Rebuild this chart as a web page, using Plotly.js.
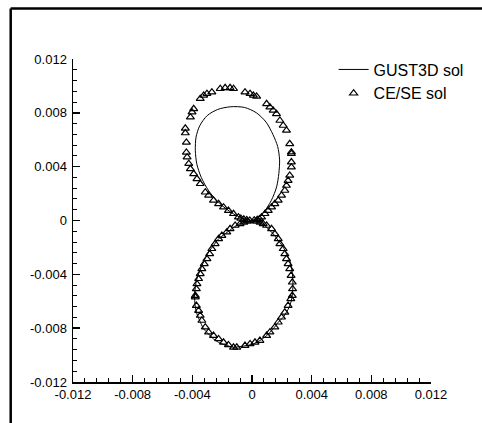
<!DOCTYPE html>
<html>
<head>
<meta charset="utf-8">
<script src="https://cdn.plot.ly/plotly-3.0.1.min.js"></script>
<style>
  html, body { margin: 0; padding: 0; background: #ffffff; }
  #chart { width: 482px; height: 423px; }
</style>
</head>
<body>
<div id="chart"></div>
<script>
// ---- Data (values in units of 1e-3) ----
var seriesNames = ["GUST3D sol", "CE/SE sol"];

// GUST3D solution: continuous figure-eight curve (upper loop, then lower loop)
var gustX = [0, 0.7, 1.3, 1.65, 1.8, 1.85, 1.72, 1.4, 0.95, 0.3, -0.5, -1.45, -2.3, -3.0, -3.5, -3.75, -3.8, -3.7, -3.4, -2.9, -2.15, -1.25, -0.4,
             0, 0.31, 0.76, 1.09, 1.42, 1.76, 2.09, 2.31, 2.53, 2.64, 2.71, 2.74, 2.74, 2.71, 2.64, 2.49, 2.31, 2.09, 1.76, 1.42, 0.98, 0.53, 0.09,
             -0.36, -0.8, -1.24, -1.69, -2.13, -2.58, -2.91, -3.24, -3.51, -3.69, -3.8, -3.84, -3.85, -3.8, -3.73, -3.58, -3.4, -3.2, -2.91, -2.58,
             -2.24, -1.8, -1.36, -0.91, -0.47, 0];
var gustY = [0, 0.5, 1.5, 2.5, 3.5, 4.5, 5.5, 6.4, 7.3, 8.0, 8.4, 8.45, 8.25, 7.8, 7.05, 6.2, 5.2, 4.2, 3.2, 2.2, 1.25, 0.5, 0.07,
             0, -0.12, -0.30, -0.62, -0.99, -1.49, -1.98, -2.48, -2.97, -3.47, -3.97, -4.46, -4.96, -5.45, -5.95, -6.44, -6.82, -7.19, -7.56, -8.05, -8.55, -8.92, -9.17,
             -9.29, -9.37, -9.42, -9.29, -9.12, -8.8, -8.43, -8.05, -7.43, -6.94, -6.44, -5.95, -5.45, -4.96, -4.46, -3.97, -3.47, -2.97, -2.35, -1.86,
             -1.36, -0.99, -0.62, -0.30, -0.12, 0];

// CE/SE solution: discrete points
var cesX = [
  // upper loop, outer ring
  -4.47, -4.47, -4.4, -4.4, -4.13, -4.02, -3.91, -3.47, -3.24, -3.02, -2.69, -2.13, -1.8, -1.47, -1.24,
  -0.47, -0.13, 0.09, 0.31, 0.98, 1.2, 1.42, 1.64, 1.87, 2.09, 2.31, 2.53, 2.64,
  2.64, 2.64, 2.64, 2.53, 2.42, 2.31, 2.2, 1.98, 1.76, 1.53, 1.31, 1.09, 0.87, 0.64,
  -4.35, -4.24, -4.13, -3.91, -3.69, -3.47, -3.13, -2.91, -2.58, -2.24, -1.91, -1.58, -1.24, -0.91,
  // crossing cluster
  -0.75, -0.55, -0.35, -0.15, 0.15, 0.35, 0.5, 0.3, 0.55, 0.75, -0.3, -0.55, -0.8,
  // lower loop, left side
  -1.13, -1.47, -1.69, -2.02, -2.24, -2.47, -2.69, -2.84, -3.02, -3.2, -3.36, -3.47, -3.58, -3.69, -3.73, -3.8,
  -3.8, -3.73, -3.58, -3.47, -3.36, -3.13, -2.91, -2.58, -2.24, -1.91, -1.58, -1.24, -1.02,
  // lower loop, bottom and right side
  -0.47, -0.13, 0.2, 0.53, 0.98, 1.2, 1.53, 1.76, 1.98, 2.2, 2.42, 2.6,
  0.98, 1.31, 1.53, 1.76, 1.87, 2.09, 2.2, 2.31, 2.42, 2.53, 2.62, 2.7, 2.72, 2.7
];
var cesY = [
  6.5, 6.85, 5.8, 5.06, 7.68, 8.05, 8.3, 9.05, 9.29, 9.42, 9.54, 9.79, 9.86, 9.86, 9.79,
  9.54, 9.42, 9.29, 9.22, 8.67, 8.42, 8.18, 7.93, 7.43, 7.06, 6.69, 5.7, 5.08,
  4.96, 4.34, 3.96, 3.35, 2.97, 2.6, 2.23, 1.86, 1.49, 1.24, 0.99, 0.74, 0.5, 0.25,
  4.71, 4.22, 3.84, 3.47, 3.1, 2.73, 2.1, 1.86, 1.49, 1.24, 0.99, 0.74, 0.5, 0.25,
  0.15, 0.09, 0.04, 0.01, 0.02, 0.06, 0.12, -0.06, -0.15, -0.25, -0.06, -0.14, -0.25,
  -0.37, -0.62, -0.87, -1.12, -1.36, -1.73, -2.1, -2.48, -2.85, -3.22, -3.59, -3.96, -4.33, -4.71, -5.08, -5.58,
  -5.7, -6.32, -6.69, -7.06, -7.43, -7.93, -8.3, -8.55, -8.8, -9.05, -9.24, -9.42, -9.42,
  -9.29, -9.17, -9.05, -8.92, -8.55, -8.3, -7.93, -7.56, -7.19, -6.82, -6.32, -5.82,
  -0.37, -0.62, -0.99, -1.36, -1.73, -2.1, -2.48, -2.85, -3.22, -3.59, -4.09, -4.59, -5.08, -5.58
];

var unitScale = 0.001;
var tickValues = [-0.012, -0.008, -0.004, 0, 0.004, 0.008, 0.012];
var tickLabels = ["-0.012", "-0.008", "-0.004", "0", "0.004", "0.008", "0.012"];

function scale(arr) { return arr.map(function (v) { return v * unitScale; }); }

var traces = [
  {
    x: scale(gustX), y: scale(gustY),
    name: seriesNames[0],
    type: "scatter", mode: "lines",
    line: { color: "#000000", width: 1, shape: "spline", smoothing: 0.8 },
    hoverinfo: "skip"
  },
  {
    x: scale(cesX), y: scale(cesY),
    name: seriesNames[1],
    type: "scatter", mode: "markers",
    marker: { symbol: "triangle-up-open", size: 7, color: "#000000", line: { width: 1.2, color: "#000000" } },
    hoverinfo: "skip"
  }
];

var font = { family: "Liberation Sans, Arial, Helvetica, sans-serif", color: "#000000" };

function axis() {
  return {
    range: [-0.012, 0.012],
    tickmode: "array",
    tickvals: tickValues,
    ticktext: tickLabels,
    ticks: "inside",
    ticklen: 7,
    tickwidth: 1.5,
    tickcolor: "#000000",
    showline: true,
    linecolor: "#000000",
    linewidth: 1.5,
    showgrid: false,
    zeroline: false,
    mirror: false,
    tickfont: { family: font.family, size: 13, color: "#000000" },
    minor: { ticks: "inside", tickmode: "linear", tick0: 0, dtick: 0.0008, ticklen: 4, tickwidth: 1, tickcolor: "#000000", showgrid: false }
  };
}

var xa = axis();
var ya = axis();
ya.ticklabelstandoff = 2;

var layout = {
  width: 482, height: 423,
  margin: { l: 73, r: 51, t: 59, b: 41, pad: 0 },
  paper_bgcolor: "#ffffff",
  plot_bgcolor: "#ffffff",
  font: font,
  showlegend: true,
  legend: {
    x: 0.728, y: 1.02, xanchor: "left", yanchor: "top",
    bgcolor: "rgba(0,0,0,0)",
    font: { family: font.family, size: 16, color: "#000000" },
    tracegroupgap: 0
  },
  xaxis: xa,
  yaxis: ya,
  shapes: [
    { type: "line", xref: "paper", yref: "paper", x0: -0.174, x1: 1.2, y0: 1.156, y1: 1.156, line: { color: "#000000", width: 2.5 } },
    { type: "line", xref: "paper", yref: "paper", x0: -0.174, x1: -0.174, y0: 1.156, y1: -0.2, line: { color: "#000000", width: 2.5 } }
  ]
};

Plotly.newPlot("chart", traces, layout, { staticPlot: true, displayModeBar: false });
</script>
</body>
</html>
